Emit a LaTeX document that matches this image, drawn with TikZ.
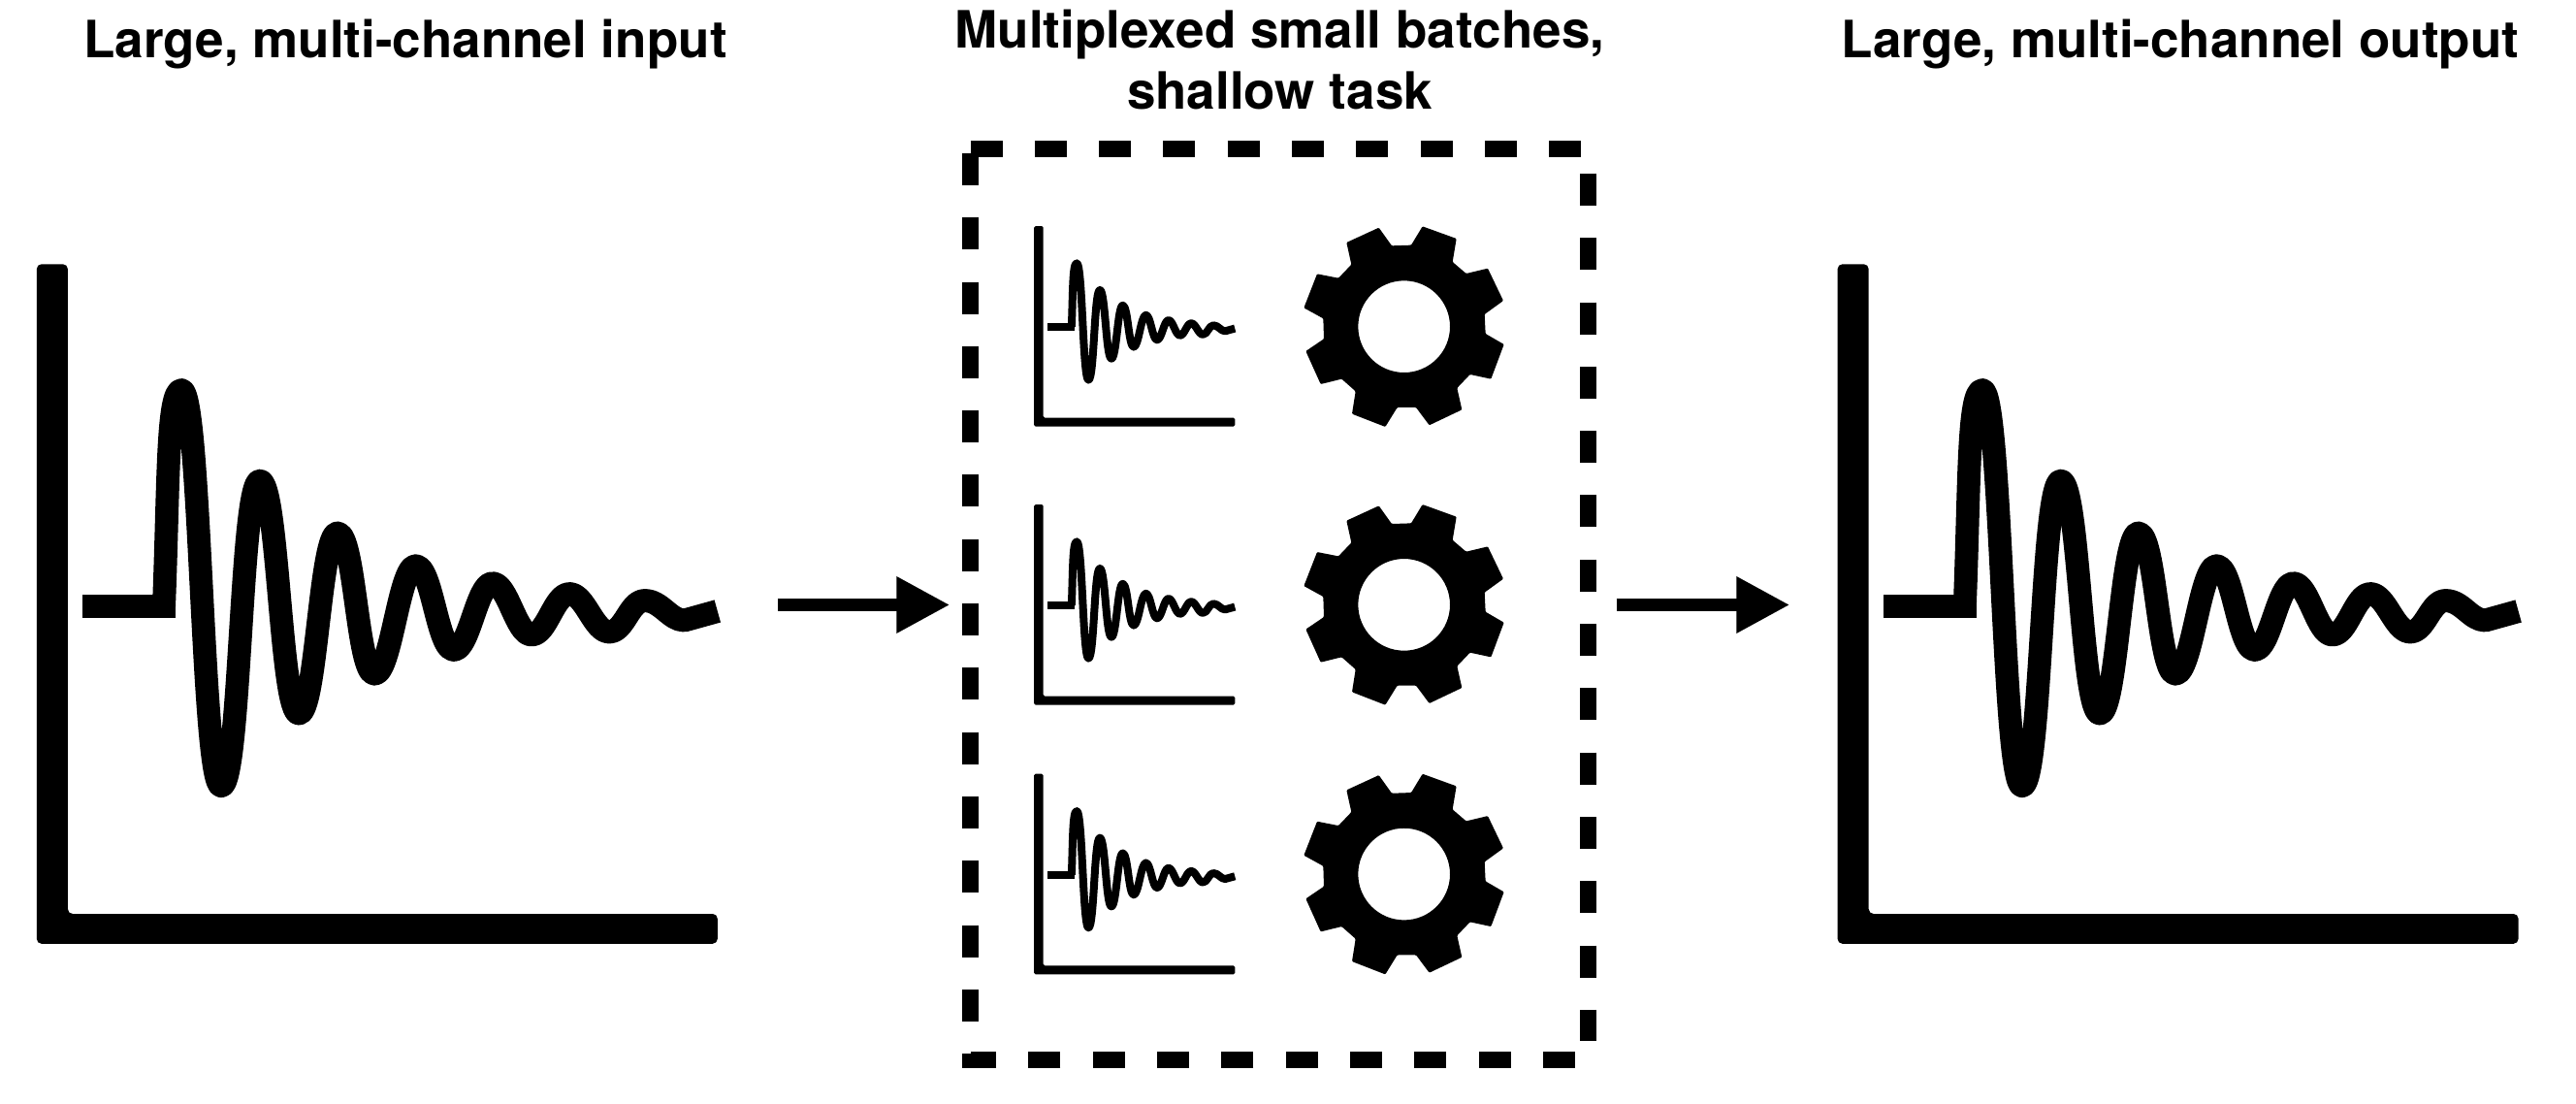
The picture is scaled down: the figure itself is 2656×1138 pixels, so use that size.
\documentclass[tikz,border=0pt]{standalone}
\usepackage{fontspec}
\setmainfont{TeX Gyre Heros}
\usetikzlibrary{arrows.meta}
\tikzset{
  x=0.5pt,y=-0.5pt,
  title/.style={inner sep=0pt,font=\fontsize{26.5}{31.5}\selectfont\bfseries,text=black},
  flowarrow/.style={line width=6.5pt,draw=black,-{Triangle[length=27.5pt,width=27.5pt]}},
  dashside/.style={draw=black,line width=8.5pt,dash pattern=on 16.5pt off 16.65pt},
}
% chart: x shift, y shift, scale, wave width, corner radius
\newcommand{\wavechart}[5]{%
\begin{scope}[shift={(#1,#2)},scale=#3]
  \fill[black,rounded corners=#5] (37.8,272.3) -- (69.9,272.3) -- (69.9,942) -- (739.8,942) -- (739.8,972.8) -- (37.8,972.8) -- cycle;
  \draw[black,line width=#4] (85.2,625) -- (181.1,625);
  \draw[black,line width=#4,line join=round]
    (169,625) .. controls (174,500) and (172,402.2) .. (187.2,402.2)
    .. controls +(20,0) and +(-20,0) .. (228.1,810.1)
    .. controls +(20,0) and +(-20,0) .. (267.9,495.7)
    .. controls +(19,0) and +(-19,0) .. (308.2,735.5)
    .. controls +(18,0) and +(-18,0) .. (348,549.5)
    .. controls +(18,0) and +(-18,0) .. (386.2,694.7)
    .. controls +(17,0) and +(-17,0) .. (428.6,583.3)
    .. controls +(17,0) and +(-17,0) .. (467.9,669.9)
    .. controls +(16,0) and +(-16,0) .. (507.7,601.2)
    .. controls +(16,0) and +(-16,0) .. (548,654.4)
    .. controls +(16,0) and +(-16,0) .. (587.2,612.1)
    .. controls +(16,0) and +(-16,0) .. (628.1,651.4)
    .. controls +(16,0) and +(-16,0) .. (664.8,619.1)
    .. controls +(17,0) and +(-15,0) .. (705.6,639.5)
    -- (739.8,630);
\end{scope}}
% gear: y shift
\newcommand{\gearicon}[1]{%
\begin{scope}[shift={(1320,220+#1)},scale=0.33333]
  \fill[black,even odd rule,rounded corners=0.5pt]
    (345,100) -- (405,98) -- (440,40) -- (545,78) -- (533,150) -- (575,186) -- (642,170) -- (690,270)
    -- (632,312) -- (635,372) -- (692,405) -- (652,512) -- (587,498) -- (547,540) -- (562,607) -- (461,655)
    -- (420,600) -- (362,600) -- (325,660) -- (222,620) -- (233,550) -- (190,512) -- (125,528) -- (79,426)
    -- (135,388) -- (133,325) -- (73,292) -- (114,187) -- (180,200) -- (220,158) -- (205,90) -- (305,44) -- cycle
    (383,350) circle[radius=142];
\end{scope}}
\begin{document}
\begin{tikzpicture}
  \fill[white] (0,0) rectangle (2656,1138);
  \useasboundingbox (0,0) rectangle (2656,1138);

  \node[title,anchor=base] (titleIn) at (418,60) {Large, multi-channel input};
  \node[title,anchor=base] (titleMid) at (1319.5,50) {Multiplexed small batches,};
  \node[title,anchor=base] (titleMidB) at (1319.5,113) {shallow task};
  \node[title,anchor=base] (titleOut) at (2248,60) {Large, multi-channel output};

  \wavechart{0}{0}{1}{12pt}{2.5pt}
  \wavechart{1856.8}{0}{1}{12pt}{2.5pt}

  \wavechart{1055}{152.7}{0.295}{4pt}{0.8pt}
  \wavechart{1055}{439.7}{0.295}{4pt}{0.8pt}
  \wavechart{1055}{717.4}{0.295}{4pt}{0.8pt}

  \gearicon{0}
  \gearicon{286.7}
  \gearicon{564.4}

  % dashed frame, side by side
  \coordinate (frameTL) at (1000.5,153.5);
  \coordinate (frameTR) at (1630,153.5);
  \coordinate (frameRT) at (1637.5,179);
  \coordinate (frameRB) at (1637.5,1073);
  \coordinate (frameBR) at (1623.8,1092.3);
  \coordinate (frameBL) at (1000.5,1092.3);
  \coordinate (frameLT) at (1000.5,158);
  \coordinate (frameLB) at (1000.5,1100.7);
  \draw[dashside] (frameTL) -- (frameTR);
  \draw[dashside] (frameRT) -- (frameRB);
  \draw[dashside] (frameBR) -- (frameBL);
  \draw[dashside] (frameLT) -- (frameLB);

  % arrows
  \coordinate (inEnd) at (802,623.5);
  \coordinate (midStart) at (979.3,623.5);
  \coordinate (midEnd) at (1666.7,623.5);
  \coordinate (outStart) at (1845.3,623.5);
  \draw[flowarrow] (inEnd) -- (midStart);
  \draw[flowarrow] (midEnd) -- (outStart);
\end{tikzpicture}
\end{document}
